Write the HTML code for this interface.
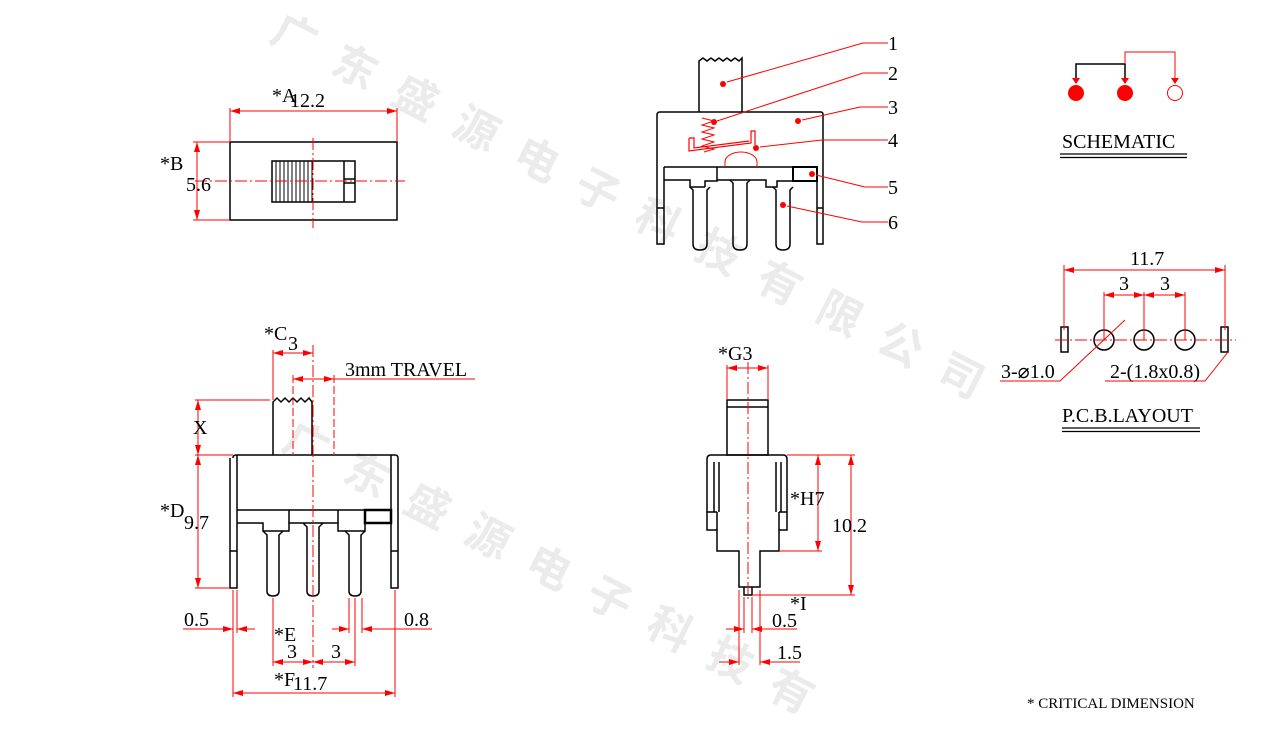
<!DOCTYPE html>
<html><head><meta charset="utf-8"><style>
html,body{margin:0;padding:0;background:#fff;width:1267px;height:743px;overflow:hidden;}
svg{display:block;overflow:hidden;}
text{font-family:"Liberation Serif",serif;}
</style></head><body>
<svg width="1267" height="743" viewBox="0 0 1267 743" xmlns="http://www.w3.org/2000/svg">
<defs>
<marker id="a" viewBox="0 0 10 6" refX="10" refY="3" markerWidth="10" markerHeight="6" orient="auto-start-reverse" markerUnits="userSpaceOnUse"><path d="M0,0L10,3L0,6z" fill="#f00"/></marker>
</defs>
<g fill="#ebebeb" font-size="44" font-weight="bold">
<text transform="translate(268,40) rotate(27)" letter-spacing="24" style="font-family:'Noto Sans CJK SC',sans-serif">广东盛源电子科技有限公司</text>
<text transform="translate(280,448) rotate(27)" letter-spacing="24" style="font-family:'Noto Sans CJK SC',sans-serif">广东盛源电子科技有</text>
</g>

<g stroke="#000" stroke-width="1.5" fill="none">
<rect x="230" y="142" width="167" height="78"/>
<rect x="272" y="161" width="83" height="41"/>
<line x1="344" y1="161" x2="344" y2="202"/>
<line x1="344" y1="179" x2="355" y2="179"/><line x1="344" y1="183" x2="355" y2="183"/>
<path d="M276,161V202M280,161V202M284,161V202M288,161V202M292,161V202M296,161V202M300,161V202M304,161V202M308,161V202M312,161V202" stroke-width="1"/>

<path d="M273,455V402l4,-4 4,4 4,-4 4,4 4,-4 4,4 4,-4 4,4 4,-4 3,4V455"/>
<path d="M233,458q0,-3 3,-3H395q3,0 3,3V588H391V455M237,455V588H230V458"/>
<line x1="230" y1="551" x2="237" y2="551"/><line x1="391" y1="551" x2="398" y2="551"/>
<line x1="237" y1="510" x2="391" y2="510"/>
<path d="M237,523H263V531H289V523H338V531H365V523H391"/>
<path d="M289,510V523M338,510V523"/>
<rect x="365" y="510" width="26" height="13" stroke-width="2.5"/>
<path d="M263,531l4,4V591q0,5 6,5q6,0 6,-5V535l4,-4"/>
<path d="M303,523l4,4V591q0,5 6,5q6,0 6,-5V527l4,-4"/>
<path d="M345,531l4,4V591q0,5 6,5q6,0 6,-5V535l4,-4"/>

<rect x="727" y="400" width="41" height="55"/>
<line x1="727" y1="407" x2="768" y2="407"/>
<path d="M711,455H783q4,0 4,4V530H779V551H760V587H739V551H717V530H707V459q0,-4 4,-4z"/>
<path d="M744,587V595H752V587"/>
<path d="M714,462V512M719,462V512M776,462V512M781,462V512M707,512H717M779,512H787"/>
<path d="M717,512V530M779,512V530"/>

<path d="M699,112V61l4,-3 4,3 4,-3 4,3 4,-3 4,3 4,-3 4,3 4,-3 4,3 3,-3V112"/>
<path d="M660,112H821q2,0 2,3V244H817V167M657,115q0,-3 3,-3M657,115V244H664V167"/>
<line x1="657" y1="208" x2="664" y2="208"/><line x1="817" y1="208" x2="823" y2="208"/>
<line x1="664" y1="167" x2="817" y2="167"/>
<path d="M664,180H690V187H705M705,187V181H717V167M717,180H766V187H777V181H793"/>
<rect x="793" y="167" width="24" height="14" stroke-width="2"/>
<path d="M690,187l3,3V244q0,6 7,6q7,0 7,-6V190l3,-3"/>
<path d="M730,180l3,3V244q0,6 7,6q7,0 7,-6V183l3,-3"/>
<path d="M773,187l3,3V244q0,6 7,6q7,0 7,-6V190l3,-3"/>

<path d="M1076,83V64H1125V83"/>
<rect x="1061" y="327" width="7" height="25"/>
<rect x="1221" y="327" width="7" height="25"/>
<circle cx="1104" cy="340" r="10"/><circle cx="1144" cy="340" r="10"/><circle cx="1185" cy="340" r="10"/>
<path d="M1060,154H1187M1060,157.5H1187M1062,428H1200M1062,431.5H1200" stroke-width="1.2"/>
</g>

<g stroke="#f00" stroke-width="1" fill="none">
<path d="M195,181H405" stroke-dasharray="12,3,2,3"/>
<path d="M313,138V228" stroke-dasharray="12,3,2,3"/>
<path d="M230,108V142M397,108V142M193,142H230M193,220H230"/>
<line x1="230" y1="111" x2="397" y2="111" marker-start="url(#a)" marker-end="url(#a)"/>
<line x1="197" y1="142" x2="197" y2="220" marker-start="url(#a)" marker-end="url(#a)"/>

<path d="M313,345V668" stroke-dasharray="12,3,2,3"/>
<path d="M293,375V455M334,375V455" stroke-dasharray="8,3"/>
<path d="M273,350V400M195,400H270M195,455H233M195,588H230"/>
<line x1="273" y1="353" x2="313" y2="353" marker-start="url(#a)" marker-end="url(#a)"/>
<line x1="293" y1="379" x2="334" y2="379" marker-start="url(#a)" marker-end="url(#a)"/>
<line x1="334" y1="379" x2="475" y2="379"/>
<line x1="198" y1="400" x2="198" y2="455" marker-start="url(#a)" marker-end="url(#a)"/>
<line x1="198" y1="455" x2="198" y2="588" marker-start="url(#a)" marker-end="url(#a)"/>
<path d="M233,590V697M237,590V633M273,598V666M355,598V666M349,598V633M362,598V633M395,590V697"/>
<line x1="183" y1="629" x2="233" y2="629" marker-end="url(#a)"/>
<line x1="255" y1="629" x2="237" y2="629" marker-end="url(#a)"/>
<line x1="332" y1="629" x2="349" y2="629" marker-end="url(#a)"/>
<line x1="432" y1="629" x2="362" y2="629" marker-end="url(#a)"/>
<line x1="273" y1="662" x2="313" y2="662" marker-start="url(#a)" marker-end="url(#a)"/>
<line x1="313" y1="662" x2="355" y2="662" marker-start="url(#a)" marker-end="url(#a)"/>
<line x1="233" y1="693" x2="395" y2="693" marker-start="url(#a)" marker-end="url(#a)"/>

<path d="M748,362V600" stroke-dasharray="12,3,2,3"/>
<path d="M727,365V400M768,365V400M787,455H855M779,551H822M752,595H855"/>
<line x1="727" y1="368" x2="768" y2="368" marker-start="url(#a)" marker-end="url(#a)"/>
<line x1="818" y1="455" x2="818" y2="551" marker-start="url(#a)" marker-end="url(#a)"/>
<line x1="851" y1="455" x2="851" y2="595" marker-start="url(#a)" marker-end="url(#a)"/>
<path d="M744,597V633M752,597V633M739,590V665M760,590V665"/>
<line x1="726" y1="629" x2="744" y2="629" marker-end="url(#a)"/>
<line x1="797" y1="629" x2="752" y2="629" marker-end="url(#a)"/>
<line x1="719" y1="662" x2="739" y2="662" marker-end="url(#a)"/>
<line x1="800" y1="662" x2="760" y2="662" marker-end="url(#a)"/>

<path d="M888,43H863L727,82M888,73H863L717,121M888,107H860L802,120M888,140H822L760,147M888,187H865L816,175M888,222H862L787,206"/>
<path d="M702,118L714,121L702,125L714,128L702,132L714,135L702,139L714,142L702,146L714,149L704,152"/>
<path d="M689,138h5v10l55,-7" stroke-width="1.2"/>
<path d="M689,138V151l62,-8V131h4v14" stroke-width="1.2"/>
<path d="M725,167v-5a16,10 0 0,1 32,0v5"/>

<path d="M1125,64V52H1175V82"/>
<circle cx="1175" cy="93" r="7.5"/>
<path d="M1055,340H1236" stroke-dasharray="12,3,2,3"/>
<path d="M1064,265V330M1225,265V330M1104,292V340M1144,292V340M1185,292V340"/>
<line x1="1064" y1="270" x2="1225" y2="270" marker-start="url(#a)" marker-end="url(#a)"/>
<line x1="1104" y1="295" x2="1144" y2="295" marker-start="url(#a)" marker-end="url(#a)"/>
<line x1="1144" y1="295" x2="1185" y2="295" marker-start="url(#a)" marker-end="url(#a)"/>
<path d="M1125,320L1060,381H1000M1228,352L1205,381H1105"/>
</g>
<g fill="#f00">
<circle cx="723" cy="84" r="3"/><circle cx="714" cy="122" r="3"/><circle cx="798" cy="121" r="3"/>
<circle cx="756" cy="148" r="3"/><circle cx="812" cy="174" r="3"/><circle cx="783" cy="205" r="3"/>
<circle cx="1076" cy="93" r="8"/><circle cx="1125" cy="93" r="8"/>
<path d="M1072,78h8l-4,6zM1121,78h8l-4,6zM1171,78h8l-4,6z"/>
</g>

<g font-size="20" fill="#000">
<text x="272" y="102">*A</text><text x="290" y="107">12.2</text>
<text x="160" y="170">*B</text><text x="186" y="191">5.6</text>
<text x="264" y="340">*C</text><text x="288" y="350">3</text>
<text x="345" y="376">3mm TRAVEL</text>
<text x="193" y="434">X</text>
<text x="160" y="517">*D</text><text x="184" y="529">9.7</text>
<text x="184" y="626">0.5</text><text x="404" y="626">0.8</text>
<text x="274" y="641">*E</text><text x="287" y="658">3</text><text x="331" y="658">3</text>
<text x="274" y="686">*F</text><text x="293" y="690">11.7</text>
<text x="718" y="360">*G3</text>
<text x="790" y="505">*H7</text>
<text x="832" y="532">10.2</text>
<text x="790" y="610">*I</text><text x="772" y="627">0.5</text>
<text x="777" y="659">1.5</text>
<text x="1062" y="148">SCHEMATIC</text>
<text x="1130" y="265">11.7</text><text x="1119" y="290">3</text><text x="1160" y="290">3</text>
<text x="1001" y="378">3-⌀1.0</text>
<text x="1110" y="378">2-(1.8x0.8)</text>
<text x="1062" y="422">P.C.B.LAYOUT</text>
<text x="1027" y="708" font-size="15">* CRITICAL  DIMENSION</text>
<text x="888" y="50">1</text><text x="888" y="80">2</text><text x="888" y="114">3</text>
<text x="888" y="147">4</text><text x="888" y="194">5</text><text x="888" y="229">6</text>
</g>
</svg>
</body></html>
